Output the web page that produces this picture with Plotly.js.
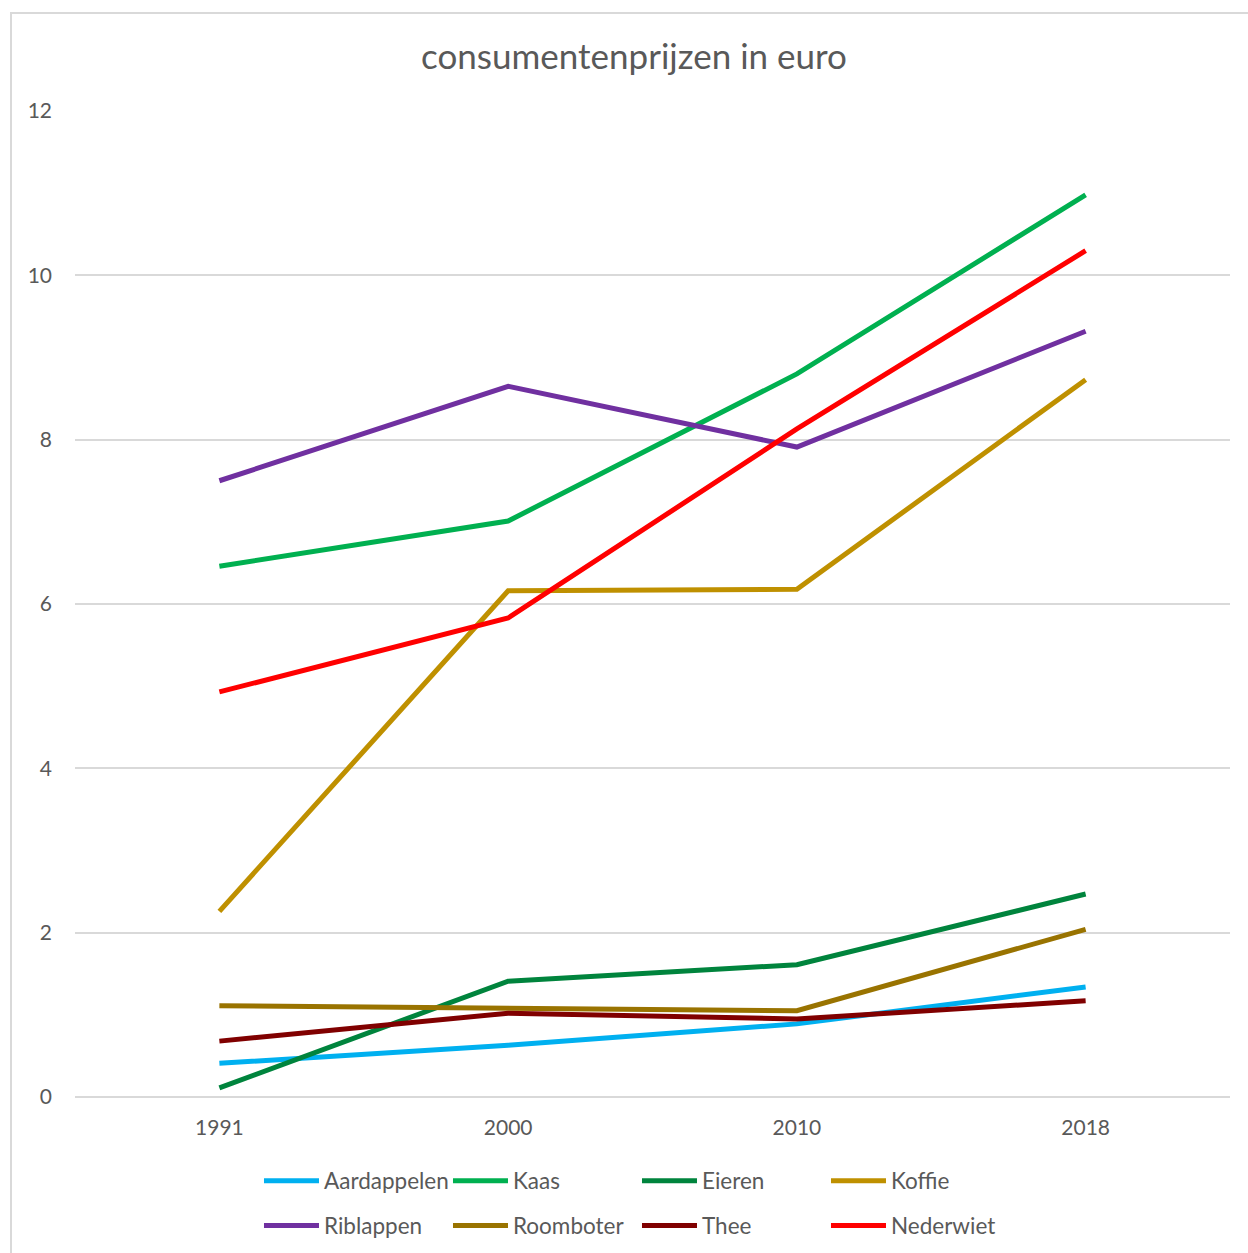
<!DOCTYPE html>
<html>
<head>
<meta charset="utf-8">
<script src="https://cdn.plot.ly/plotly-3.0.1.min.js"></script>
<style>html,body{margin:0;padding:0;background:#fff}#chart{width:1248px;height:1253px}</style>
</head>
<body>
<div id="chart"></div>
<script>
const years = ['1991', '2000', '2010', '2018'];
const seriesNames = ['Aardappelen', 'Kaas', 'Eieren', 'Koffie', 'Riblappen', 'Roomboter', 'Thee', 'Nederwiet'];
const aardappelen = [0.41, 0.63, 0.89, 1.34];
const kaas = [6.46, 7.01, 8.80, 10.98];
const eieren = [0.11, 1.41, 1.61, 2.47];
const koffie = [2.26, 6.16, 6.18, 8.73];
const riblappen = [7.50, 8.65, 7.91, 9.32];
const roomboter = [1.11, 1.08, 1.05, 2.04];
const thee = [0.68, 1.02, 0.95, 1.17];
const nederwiet = [4.93, 5.83, 8.13, 10.30];
const yTicks = [0, 2, 4, 6, 8, 10, 12];

const values = [aardappelen, kaas, eieren, koffie, riblappen, roomboter, thee, nederwiet];
const colors = ['#00B0F0', '#00B050', '#00843D', '#BF9000', '#7030A0', '#997300', '#800000', '#FF0000'];

const traces = values.map((v, i) => ({
  type: 'scatter', mode: 'lines', x: years, y: v, name: seriesNames[i],
  line: {color: colors[i], width: 5},
  legend: i < 4 ? 'legend' : 'legend2'
}));

const font = 'Lato, "Open Sans", sans-serif';
const legendBase = {
  orientation: 'h', xanchor: 'left', yanchor: 'middle', x: 0.1593,
  font: {family: font, size: 22.5, color: '#595959'},
  entrywidth: 119, entrywidthmode: 'pixels', itemwidth: 55,
  bgcolor: 'rgba(0,0,0,0)', traceorder: 'normal'
};

const layout = {
  width: 1248, height: 1253,
  margin: {l: 75, r: 18, t: 111, b: 156, autoexpand: false},
  paper_bgcolor: '#fff', plot_bgcolor: '#fff',
  title: {text: 'consumentenprijzen in euro', x: 0.508, xanchor: 'center', y: 0.955, yanchor: 'middle',
          font: {family: font, size: 35, color: '#595959'}},
  xaxis: {type: 'category', range: [-0.5, 3.5], showgrid: false, zeroline: false,
          showline: false, ticks: '', tickfont: {family: font, size: 21, color: '#595959'},
          ticklabelstandoff: 16},
  yaxis: {range: [0, 12], tickvals: yTicks, ticktext: yTicks.map(String), showgrid: true,
          gridcolor: '#d9d9d9', gridwidth: 2, zeroline: false, showline: false, ticks: '',
          tickfont: {family: font, size: 21, color: '#595959'}, ticklabelstandoff: 22},
  showlegend: true,
  legend: Object.assign({}, legendBase, {y: -0.0852}),
  legend2: Object.assign({}, legendBase, {y: -0.1308}),
  shapes: [
    {type: 'line', xref: 'paper', yref: 'paper', x0: 0, x1: 1, y0: 0, y1: 0,
     line: {color: '#d9d9d9', width: 2}, layer: 'below'},
    {type: 'rect', xref: 'paper', yref: 'paper', x0: -0.0554, x1: 1.03, y0: -0.17, y1: 1.0994,
     line: {color: '#d9d9d9', width: 2}, layer: 'below'}
  ]
};

Plotly.newPlot('chart', traces, layout, {displayModeBar: false, staticPlot: true});
</script>
</body>
</html>
